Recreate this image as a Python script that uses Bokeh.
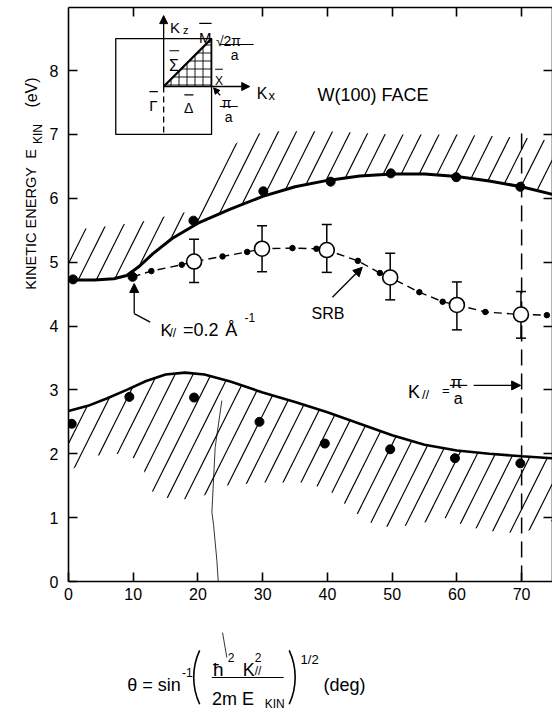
import math
from bokeh.plotting import figure
from bokeh.layouts import row, column
from bokeh.models import (Range1d, LinearAxis, FixedTicker, Label, Arrow, NormalHead,
                          TeeHead, Whisker, ColumnDataSource)
from bokeh.embed import file_html
from bokeh.resources import INLINE

FONT = "Liberation Sans"

# ---------------- data ----------------
x_ticks = [0, 10, 20, 30, 40, 50, 60, 70]
y_ticks = [0, 1, 2, 3, 4, 5, 6, 7, 8]
top_ticks = [10, 30, 40, 50, 60, 70]
right_ticks = [1, 2, 3, 4, 5, 6, 7, 8]

# upper solid curve (band edge) and its measured points
upper_curve_theta = [0, 4, 7, 9, 11, 13, 16, 20, 25, 30, 35, 40, 45, 50, 55, 60, 65, 70, 74.8]
upper_curve_E = [4.72, 4.72, 4.74, 4.79, 4.94, 5.13, 5.37, 5.61, 5.83, 6.03, 6.18, 6.28,
                 6.35, 6.38, 6.38, 6.34, 6.27, 6.18, 6.06]
upper_pts_theta = [0.7, 9.9, 19.3, 30.1, 40.5, 49.8, 59.9, 69.8]
upper_pts_E = [4.73, 4.77, 5.65, 6.11, 6.26, 6.39, 6.33, 6.18]

# top boundary of the upper hatched region (right to left)
upper_hatch_theta = [74.8, 70, 60, 50, 40, 32, 28, 25, 22, 20, 18, 15, 12, 9, 5, 0]
upper_hatch_E = [6.9, 6.95, 7.0, 7.0, 7.05, 7.05, 7.0, 6.8, 6.4, 6.0, 5.78, 5.72, 5.65,
                 5.6, 5.55, 5.5]

# lower solid curve and its measured points
lower_curve_theta = [0, 3, 6, 9, 12, 15, 18, 21, 25, 30, 35, 40, 45, 50, 55, 60, 65, 70, 74.8]
lower_curve_E = [2.67, 2.75, 2.87, 3.0, 3.14, 3.24, 3.27, 3.24, 3.13, 2.96, 2.81, 2.65,
                 2.47, 2.29, 2.14, 2.05, 2.0, 1.96, 1.93]
lower_pts_theta = [0.5, 9.4, 19.4, 29.5, 39.6, 49.7, 59.7, 69.8]
lower_pts_E = [2.47, 2.89, 2.88, 2.50, 2.16, 2.07, 1.93, 1.85]

# bottom boundary of the lower hatched region (right to left)
lower_hatch_theta = [74.8, 70, 66, 62, 58, 54, 50, 47, 44, 40, 36, 30, 24, 20, 16, 13, 11,
                     8, 4, 2, 0]
lower_hatch_E = [0.95, 0.75, 0.78, 0.85, 1.0, 0.9, 0.84, 0.9, 1.1, 1.45, 1.55, 1.55, 1.5,
                 1.3, 1.28, 1.4, 1.9, 2.0, 1.97, 1.85, 1.72]

# SRB (surface resonance band)
srb_theta = [19.4, 29.9, 39.9, 49.7, 60.0, 69.9]
srb_E = [5.01, 5.21, 5.19, 4.76, 4.33, 4.18]
srb_E_hi = [5.36, 5.57, 5.59, 5.14, 4.69, 4.54]
srb_E_lo = [4.68, 4.85, 4.84, 4.41, 3.94, 3.81]
srb_dot_theta = [12.8, 17.5, 23.8, 27.6, 34.6, 38.3, 44.7, 48.1, 54.2, 57.8, 64.4, 73.9]
srb_dot_E = [4.86, 4.96, 5.09, 5.16, 5.22, 5.21, 5.02, 4.83, 4.53, 4.38, 4.22, 4.17]
srb_start_theta = 9.9
srb_start_E = 4.77

# K_par = pi/a marker
kpi_theta = 70
kpi_top_E = 7.1

# inset (surface Brillouin zone) geometry in plot units
inset_left, inset_right, inset_bottom, inset_top = 7.3, 22.1, 7.0, 8.5
gamma_theta, gamma_E = 14.7, 7.75
kz_tip_E = 8.86
kx_tip_theta = 28.0
overbar_x0 = [12.5, 15.6, 20.2, 22.65, 17.9]
overbar_x1 = [13.8, 17.1, 22.1, 23.85, 19.3]
overbar_E = [7.67, 8.31, 8.74, 8.02, 7.62]

# thin pointer line from the formula up into the plot
pointer1_theta = [23.69, 22.66, 22.15, 22.42, 22.92, 23.43]
pointer1_E = [2.834, 2.10, 1.085, 0.877, 0.329, -0.454]
pointer2_theta = [23.8, 24.46]
pointer2_E = [-0.80, -1.19]

# formula parentheses (arc centres, plot units; radius in px)
paren_left_theta, paren_right_theta, paren_E, paren_radius = 29.19, 25.17, -1.50, 63.75

# ---------------- figures ----------------
X_RANGE = (0, 74.77)
Y_RANGE = (0, 8.987)
STRIP_X = -3.077   # plot units at the strip / plot boundary (x = 46 px)

p = figure(width=506, height=612, output_backend="svg", toolbar_location=None,
           x_range=Range1d(*X_RANGE), y_range=Range1d(*Y_RANGE),
           x_axis_location=None, y_axis_location=None,
           min_border_left=20, min_border_right=0, min_border_top=7, min_border_bottom=31)
p.outline_line_color = None
p.grid.visible = False

# left strip for the y-axis title (same units as the plot)
pl = figure(width=46, height=713, output_backend="svg", toolbar_location=None,
            x_range=Range1d(-10.154, STRIP_X), y_range=Range1d(-2.0667, 9.097),
            x_axis_location=None, y_axis_location=None,
            min_border=0, min_border_left=0, min_border_right=0, min_border_top=0,
            min_border_bottom=0)
pl.outline_line_color = None
pl.grid.visible = False

# bottom strip for the formula (its frame is aligned with the plot frame)
pf = figure(width=506, height=101, output_backend="svg", toolbar_location=None,
            x_range=Range1d(*X_RANGE), y_range=Range1d(-2.0667, -0.4854),
            x_axis_location=None, y_axis_location=None,
            min_border=0, min_border_left=0, min_border_right=0, min_border_top=0,
            min_border_bottom=0)
pf.outline_line_color = None
pf.grid.visible = False


def style_axis(ax, ticks, labels=True, standoff=8):
    ax.ticker = FixedTicker(ticks=ticks)
    ax.major_tick_in = 9
    ax.major_tick_out = 0
    ax.minor_tick_in = 0
    ax.minor_tick_out = 0
    ax.axis_line_width = 1.6
    ax.axis_line_color = "black"
    ax.major_tick_line_width = 1.6
    ax.major_tick_line_color = "black"
    ax.major_label_text_font = FONT
    ax.major_label_text_font_size = "16px"
    ax.major_label_text_color = "black"
    ax.major_label_standoff = standoff
    if not labels:
        ax.major_label_overrides = {t: "" for t in ticks}
        ax.major_label_text_font_size = "0px"
        ax.major_label_standoff = 0
    return ax


p.add_layout(style_axis(LinearAxis(), x_ticks, True, 6), "below")
p.add_layout(style_axis(LinearAxis(), y_ticks, True, 10), "left")
p.add_layout(style_axis(LinearAxis(), top_ticks, False), "above")
p.add_layout(style_axis(LinearAxis(), right_ticks, False), "right")

# hatched regions
p.patch(upper_curve_theta + upper_hatch_theta, upper_curve_E + upper_hatch_E,
        fill_color=None, line_color=None, hatch_pattern="/", hatch_color="black",
        hatch_weight=1.2, hatch_scale=36)
p.patch(lower_curve_theta + lower_hatch_theta, lower_curve_E + lower_hatch_E,
        fill_color=None, line_color=None, hatch_pattern="/", hatch_color="black",
        hatch_weight=1.2, hatch_scale=36)

# solid curves
p.line(upper_curve_theta, upper_curve_E, line_color="black", line_width=3)
p.line(lower_curve_theta, lower_curve_E, line_color="black", line_width=2.6)

# K = pi/a dashed line
p.line([kpi_theta, kpi_theta], [0, kpi_top_E], line_color="black", line_width=1.5,
       line_dash="16 8")

# SRB dashed line
srb_all = sorted(list(zip(srb_theta, srb_E)) + list(zip(srb_dot_theta, srb_dot_E)) +
                 [(srb_start_theta, srb_start_E)])
p.line([a for a, b in srb_all], [b for a, b in srb_all], line_color="black",
       line_width=1.4, line_dash="8 5")

# error bars
esrc = ColumnDataSource(dict(theta=srb_theta, hi=srb_E_hi, lo=srb_E_lo))
p.add_layout(Whisker(source=esrc, base="theta", upper="hi", lower="lo", dimension="height",
                     line_width=1.5, line_color="black", level="underlay",
                     upper_head=TeeHead(size=10, line_width=1.5, line_color="black"),
                     lower_head=TeeHead(size=10, line_width=1.5, line_color="black")))

# points
p.scatter(upper_pts_theta, upper_pts_E, size=9, color="black")
p.scatter(lower_pts_theta, lower_pts_E, size=9, color="black")
p.scatter(srb_dot_theta, srb_dot_E, size=5.5, color="black")
p.scatter(srb_theta, srb_E, size=15, fill_color="white", line_color="black", line_width=1.6)

# thin pointer line
p.line(pointer1_theta, pointer1_E, line_color="black", line_width=0.8)
pf.line(pointer2_theta, pointer2_E, line_color="black", line_width=0.8)

# ---------------- inset ----------------
p.quad(left=[inset_left], right=[inset_right], bottom=[inset_bottom], top=[inset_top],
       fill_color=None, line_color="black", line_width=1.3)
p.patch([gamma_theta, inset_right, inset_right], [gamma_E, inset_top, gamma_E],
        fill_color=None, line_color="black", line_width=1.2, hatch_pattern="+",
        hatch_scale=8, hatch_color="black", hatch_weight=0.9)
p.line([gamma_theta, inset_right], [gamma_E, inset_top], line_color="black", line_width=2.2)
p.line([gamma_theta, gamma_theta], [gamma_E, inset_bottom], line_color="black",
       line_width=1.3, line_dash="6 4")
p.segment(x0=overbar_x0, x1=overbar_x1, y0=overbar_E, y1=overbar_E, line_color="black",
          line_width=1.2)


def arrow(fig, x0, y0, x1, y1, head=True, w=1.3, size=9):
    fig.add_layout(Arrow(x_start=x0, y_start=y0, x_end=x1, y_end=y1, line_width=w,
                         line_color="black",
                         end=NormalHead(size=size, fill_color="black", line_color="black",
                                        line_width=1) if head else None))


arrow(p, gamma_theta, gamma_E, gamma_theta, kz_tip_E, size=8)
arrow(p, gamma_theta, gamma_E, kx_tip_theta, gamma_E, size=8)
arrow(p, 23.43, 7.61, 22.42, 7.73, size=6)
arrow(p, 23.38, 8.408, 28.6, 8.408, head=False, w=1.1)
arrow(p, 23.38, 7.437, 26.15, 7.437, head=False, w=1.1)


def lab(fig, x, y, text, size=16, align="left", baseline="alphabetic", angle=0.0):
    fig.add_layout(Label(x=x, y=y, text=text, text_font=FONT, text_font_size=f"{size}px",
                         text_color="black", text_align=align, text_baseline=baseline,
                         angle=angle))


lab(p, 15.69, 8.674, "K", 15)
lab(p, 17.69, 8.627, "z", 11)
lab(p, 20.15, 8.517, "M", 15)
lab(p, 22.77, 8.455, "\u221a2\u03c0", 14)
lab(p, 25.08, 8.236, "a", 14)
lab(p, 15.54, 8.079, "\u03a3", 16)
lab(p, 22.62, 7.844, "X", 12)
lab(p, 29.08, 7.64, "K", 16)
lab(p, 30.9, 7.61, "x", 13)
lab(p, 12.46, 7.453, "\u0393", 15)
lab(p, 17.85, 7.42, "\u0394", 14)
lab(p, 23.69, 7.484, "\u03c0", 14)
lab(p, 24.15, 7.28, "a", 14)

# ---------------- annotations ----------------
lab(p, 38.46, 7.61, "W(100) FACE", 18)

# K = 0.2 A^-1
lab(p, 14.23, 3.93, "K", 17)
lab(p, 15.6, 3.883, "//", 12)
lab(p, 17.69, 3.93, "=0.2", 18)
lab(p, 24.2, 3.93, "\u00c5", 18)
lab(p, 27.2, 4.133, "-1", 12)
arrow(p, 12.62, 4.06, 10.15, 4.195, head=False)
arrow(p, 10.15, 4.195, 10.15, 4.665)

# SRB
lab(p, 37.54, 4.196, "SRB", 16)
arrow(p, 40.77, 4.45, 45.38, 4.92)

# K = pi/a
lab(p, 52.46, 2.96, "K", 18)
lab(p, 54.6, 2.928, "//", 13)
lab(p, 57.7, 2.99, "=", 13)
lab(p, 59.0, 3.116, "\u03c0", 17)
lab(p, 59.5, 2.865, "a", 16)
arrow(p, 58.9, 3.07, 61.6, 3.07, head=False, w=1.2)
arrow(p, 62.6, 3.07, 69.85, 3.07)

# y-axis title (left strip)
lab(pl, -5.385, 4.57, "KINETIC ENERGY", 14.5, baseline="middle", angle=math.pi / 2)
lab(pl, -5.385, 6.62, "E", 14.5, baseline="middle", angle=math.pi / 2)
lab(pl, -4.46, 6.85, "KIN", 12, baseline="middle", angle=math.pi / 2)
lab(pl, -5.385, 7.42, "(eV)", 16, baseline="middle", angle=math.pi / 2)

# formula (bottom strip)
lab(pf, 9.08, -1.628, "\u03b8 = sin", 18)
lab(pf, 17.54, -1.423, "-1", 12)
pf.arc(x=[paren_left_theta, paren_right_theta], y=[paren_E, paren_E],
       radius=paren_radius, radius_units="screen",
       start_angle=[math.radians(155), math.radians(-25)],
       end_angle=[math.radians(205), math.radians(25)],
       line_color="black", line_width=1.6)
lab(pf, 22.31, -1.378, "\u0127", 19)
lab(pf, 24.6, -1.19, "2", 12)
lab(pf, 26.92, -1.378, "K", 18)
lab(pf, 28.77, -1.19, "2", 12)
lab(pf, 28.77, -1.409, "//", 12)
arrow(pf, 22.15, -1.503, 33.23, -1.503, head=False, w=1.2)
lab(pf, 22.15, -1.847, "2m E", 18)
lab(pf, 30.31, -1.92, "KIN", 12)
lab(pf, 35.85, -1.221, "1/2", 13)
lab(pf, 39.38, -1.628, "(deg)", 18)

layout = row(pl, column(p, pf, spacing=0), spacing=0)
open("out.html", "w").write(file_html(layout, INLINE))
